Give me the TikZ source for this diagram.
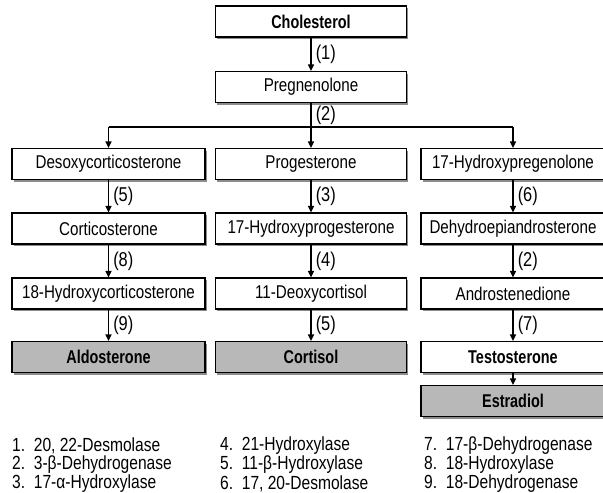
\documentclass[tikz,border=0pt]{standalone}
\usepackage{fontspec}
\setmainfont{Liberation Sans}[FakeStretch=0.82, BoldFeatures={FakeStretch=0.78}]
\usetikzlibrary{arrows.meta,shadows}
\begin{document}
\begin{tikzpicture}[x=1pt,y=-1pt,
  box/.style={draw, line width=1.1pt, fill=white, minimum height=31pt, inner sep=0pt,
    font=\fontsize{18.5}{21}\selectfont,
    drop shadow={shadow xshift=1.5pt, shadow yshift=-2pt, fill=black!45, opacity=1}},
  endbox/.style={box, fill=black!28, font=\fontsize{18.5}{21}\selectfont\bfseries},
  boldbox/.style={box, font=\fontsize{18.5}{21}\selectfont\bfseries},
  colL/.style={minimum width=193pt},
  colM/.style={minimum width=191pt},
  colR/.style={minimum width=184pt},
  arr/.style={line width=1.5pt, -{Triangle[length=6.5pt,width=6pt]}},
  link/.style={line width=1.5pt},
  lab/.style={right=4pt, font=\fontsize{20}{22}\selectfont, inner sep=0pt},
  leg/.style={anchor=west, inner sep=0pt, font=\fontsize{19}{21}\selectfont}]
\useasboundingbox (0,0) rectangle (603,493);
\fill[white] (0,0) rectangle (603,493);
% top
\node[boldbox, colM] (chol) at (311,21.5) {Cholesterol};
\node[box, colM] (preg) at (311,87) {Pregnenolone};
% row 1
\node[box, colL] (desoxy) at (108.5,164) {Desoxycorticosterone};
\node[box, colM] (proges) at (311,164) {Progesterone};
\node[box, colR] (hpreg) at (513,164) {17-Hydroxypregenolone};
% row 2
\node[box, colL] (cortico) at (108.5,228.5) {Corticosterone};
\node[box, colM] (hprog) at (311,228.5) {17-Hydroxyprogesterone};
\node[box, colR] (dhea) at (513,228.5) {Dehydroepiandrosterone};
% row 3
\node[box, colL] (hcort) at (108.5,293.5) {18-Hydroxycorticosterone};
\node[box, colM] (deoxy) at (311,293.5) {11-Deoxycortisol};
\node[box, colR] (andro) at (513,293.5) {Androstenedione};
% row 4
\node[endbox, colL] (aldo) at (108.5,357) {Aldosterone};
\node[endbox, colM] (cortisol) at (311,357) {Cortisol};
\node[boldbox, colR] (testo) at (513,357) {Testosterone};
\node[endbox, colR] (estra) at (513,401) {Estradiol};
% connectors
\draw[arr] (chol) -- (preg) node[midway, lab] {(1)};
\coordinate (hub) at (311,127);
\coordinate (hl) at (108.5,127);
\coordinate (hr) at (513,127);
\draw[link] (preg) -- (hub) node[midway, lab] {(2)};
\draw[link] (hl) -- (hr);
\draw[arr] (hl) -- (desoxy);
\draw[arr] (hub) -- (proges);
\draw[arr] (hr) -- (hpreg);
\draw[arr] (desoxy) -- (cortico) node[midway, lab] {(5)};
\draw[arr] (cortico) -- (hcort) node[midway, lab] {(8)};
\draw[arr] (hcort) -- (aldo) node[midway, lab] {(9)};
\draw[arr] (proges) -- (hprog) node[midway, lab] {(3)};
\draw[arr] (hprog) -- (deoxy) node[midway, lab] {(4)};
\draw[arr] (deoxy) -- (cortisol) node[midway, lab] {(5)};
\draw[arr] (hpreg) -- (dhea) node[midway, lab] {(6)};
\draw[arr] (dhea) -- (andro) node[midway, lab] {(2)};
\draw[arr] (andro) -- (testo) node[midway, lab] {(7)};
\draw[arr] (testo) -- (estra);
% legend
\node[leg] (l1) at (12,446) {1.\ \ 20, 22-Desmolase};
\node[leg] (l2) at (12,465) {2.\ \ 3-β-Dehydrogenase};
\node[leg] (l3) at (12,484) {3.\ \ 17-α-Hydroxylase};
\node[leg] (l4) at (220,446) {4.\ \ 21-Hydroxylase};
\node[leg] (l5) at (220,465) {5.\ \ 11-β-Hydroxylase};
\node[leg] (l6) at (220,484) {6.\ \ 17, 20-Desmolase};
\node[leg] (l7) at (424,446) {7.\ \ 17-β-Dehydrogenase};
\node[leg] (l8) at (424,465) {8.\ \ 18-Hydroxylase};
\node[leg] (l9) at (424,484) {9.\ \ 18-Dehydrogenase};
\end{tikzpicture}
\end{document}
